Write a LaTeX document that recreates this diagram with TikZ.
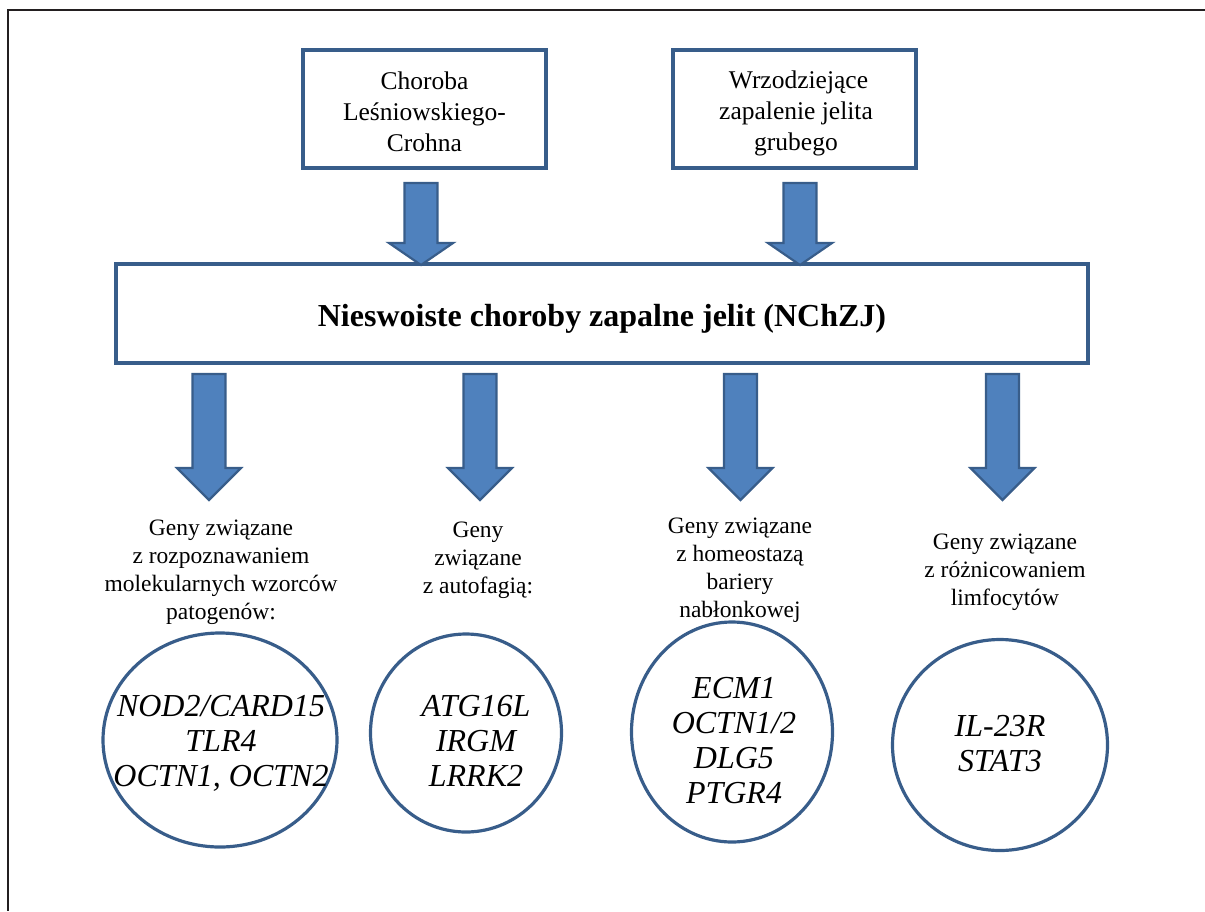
\documentclass[tikz,border=0pt]{standalone}
\usepackage{fontspec}
\setmainfont{Liberation Serif}
\usetikzlibrary{shapes.geometric}
\definecolor{boxblue}{HTML}{385D8A}
\definecolor{arrowfill}{HTML}{4F81BD}
\definecolor{framegray}{HTML}{231F20}
\newcommand\blkarrow[4]{% x, top, head start, tip
  \draw[blockarrow] (#1-16.5,#2) -- (#1+16.5,#2) -- (#1+16.5,#3) -- (#1+32,#3)
    -- (#1,#4) -- (#1-32,#3) -- (#1-16.5,#3) -- cycle;}
\begin{document}
\begin{tikzpicture}[x=1pt,y=-1pt,
  box/.style={draw=boxblue, line width=3.2pt, fill=white, inner sep=0pt, align=center},
  gene/.style={ellipse, draw=boxblue, line width=3.2pt, inner sep=0pt},
  genetext/.style={align=center, font=\fontsize{32}{35}\selectfont\itshape},
  lbl/.style={align=center, font=\fontsize{23.5}{28}\selectfont},
  boxtext/.style={align=center, font=\fontsize{25.5}{31}\selectfont},
  blockarrow/.style={draw=boxblue, line width=2.2pt, fill=arrowfill, line join=miter},
  frameline/.style={draw=framegray, line width=1.3pt}]
\useasboundingbox (0,0) rectangle (1205,911);
% frame
\coordinate (fa) at (1205,10);
\coordinate (fb) at (8,10);
\coordinate (fc) at (8,911);
\draw[frameline] (fa) -- (fb) -- (fc);
% top boxes
\node[box, minimum width=243pt, minimum height=118pt] (cd) at (424.5,109) {};
\node[boxtext] (cdt) at (424.5,112) {Choroba\\Leśniowskiego-\\Crohna};
\node[box, minimum width=243pt, minimum height=118pt] (uc) at (794.5,109) {};
\node[boxtext] (uct) at (796,113.5) {\hspace*{5pt}Wrzodziejące\\zapalenie jelita\\grubego};
% main box
\node[box, minimum width=972pt, minimum height=99pt] (ibd) at (602,313.5) {};
\node[font=\fontsize{32}{36}\selectfont\bfseries] (ibdt) at (602,319)
  {Nieswoiste choroby zapalne jelit (NChZJ)};
% top arrows
\blkarrow{421}{183}{243}{265}
\blkarrow{800}{183}{243}{265}
% lower arrows
\blkarrow{209}{374}{468}{500}
\blkarrow{480}{374}{468}{500}
\blkarrow{740.5}{374}{468}{500}
\blkarrow{1002.5}{374}{468}{500}
% labels
\node[lbl] (l1) at (221,572) {Geny związane\\z rozpoznawaniem\\molekularnych wzorców\\patogenów:};
\node[lbl] (l2) at (478,560.5) {Geny\\związane\\z autofagią:};
\node[lbl] (l3) at (740,570.5) {Geny związane\\z homeostazą\\bariery\\nabłonkowej};
\node[lbl] (l4) at (1005,572) {Geny związane\\z różnicowaniem\\limfocytów};
% circles
\node[gene, minimum width=234pt, minimum height=214pt] (c1) at (220,740) {};
\node[gene, minimum width=191pt, minimum height=198pt] (c2) at (466,733) {};
\node[gene, minimum width=201pt, minimum height=220pt] (c3) at (732,732) {};
\node[gene, minimum width=215pt, minimum height=211pt] (c4) at (1000,745) {};
\node[genetext] (t1) at (221,743) {NOD2/CARD15\\TLR4\\OCTN1, OCTN2};
\node[genetext] (t2) at (476,741) {ATG16L\\IRGM\\LRRK2};
\node[genetext] (t3) at (734,741) {ECM1\\OCTN1/2\\DLG5\\PTGR4};
\node[genetext] (t4) at (1000,744) {IL-23R\\STAT3};
\end{tikzpicture}
\end{document}
